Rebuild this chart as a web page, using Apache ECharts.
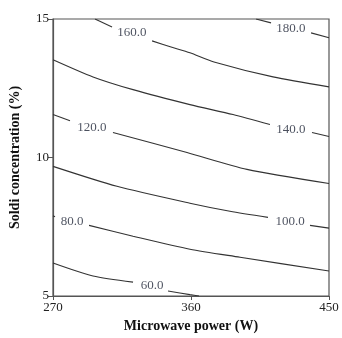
<!DOCTYPE html>
<html>
<head>
<meta charset="utf-8">
<script src="https://cdn.jsdelivr.net/npm/echarts@6/dist/echarts.min.js"></script>
<style>html,body{margin:0;padding:0;background:#fff}#c{width:342px;height:338px}</style>
</head>
<body>
<div id="c"></div>
<script>
// Axis ranges and ticks
var xTicks = [270, 360, 450];
var yTicks = [5, 10, 15];

// Contour lines: each is a list of segments (gaps where labels sit), points [power, concentration]
var contour180 = [
  [[402.4, 15.0], [412.2, 14.86]],
  [[438.3, 14.50], [450, 14.32]]
];
var contour160 = [
  [[297.4, 15.0], [308.5, 14.71]],
  [[334.6, 14.21], [347.0, 13.99], [359.3, 13.78], [375.0, 13.45], [413.5, 12.91], [450, 12.55]]
];
var contour140 = [
  [[270, 13.53], [296.1, 12.91], [322.2, 12.45], [359.3, 11.91], [387.4, 11.55], [411.5, 11.19]],
  [[438.9, 10.90], [450, 10.76]]
];
var contour120 = [
  [[270, 11.55], [281.1, 11.33]],
  [[309.1, 10.90], [357.4, 10.18], [396.5, 9.57], [450, 9.06]]
];
var contour100 = [
  [[270, 9.68], [311.7, 8.96], [359.3, 8.35], [385.4, 8.06], [410.2, 7.84]],
  [[437.6, 7.55], [450, 7.45]]
];
var contour80 = [
  [[270, 7.90], [271.3, 7.86]],
  [[293.5, 7.55], [322.2, 7.16], [359.3, 6.69], [392.0, 6.40], [450, 5.90]]
];
var contour60 = [
  [[270, 6.19], [296.1, 5.72], [322.2, 5.50]],
  [[345.0, 5.18], [359.3, 5.05], [365.2, 5.0]]
];

// Contour labels: [power, concentration, text]
var contourLabels = [
  [425.2, 14.64, '180.0'],
  [321.5, 14.50, '160.0'],
  [425.2, 11.01, '140.0'],
  [295.4, 11.08, '120.0'],
  [424.6, 7.70, '100.0'],
  [282.4, 7.70, '80.0'],
  [334.6, 5.36, '60.0']
];

var allContours = [contour180, contour160, contour140, contour120, contour100, contour80, contour60];

var series = [];
allContours.forEach(function (c) {
  c.forEach(function (seg) {
    series.push({
      type: 'line',
      data: seg,
      symbol: 'none',
      smooth: 0.25,
      lineStyle: { color: '#333', width: 1.1 },
      silent: true,
      z: 2
    });
  });
});
series.push({
  type: 'scatter',
  data: contourLabels,
  symbolSize: 0,
  silent: true,
  label: {
    show: true,
    position: 'inside',
    formatter: function (p) { return p.data[2]; },
    fontFamily: "'Liberation Serif', serif",
    fontSize: 13,
    color: '#1e2436'
  },
  z: 3
});

var serif = "'Liberation Serif', serif";
var chart = echarts.init(document.getElementById('c'), null, { renderer: 'canvas' });
chart.setOption({
  animation: false,
  backgroundColor: '#fff',
  grid: { left: 53, right: 13, top: 19, bottom: 41, show: true, borderColor: '#555', borderWidth: 1.2, backgroundColor: 'transparent' },
  xAxis: {
    type: 'value', min: xTicks[0], max: xTicks[xTicks.length - 1], interval: xTicks[1] - xTicks[0],
    name: 'Microwave power (W)', nameLocation: 'middle', nameGap: 23,
    nameTextStyle: { fontFamily: serif, fontSize: 14, fontWeight: 'bold', color: '#111' },
    axisLine: { show: true, lineStyle: { color: '#555', width: 1.2 } },
    axisTick: { show: true, length: 4, lineStyle: { color: '#555' } },
    axisLabel: { fontFamily: serif, fontSize: 13, color: '#222', margin: 5 },
    splitLine: { show: false }
  },
  yAxis: {
    type: 'value', min: yTicks[0], max: yTicks[yTicks.length - 1], interval: yTicks[1] - yTicks[0],
    name: 'Soldi concentration (%)', nameLocation: 'middle', nameGap: 31,
    nameTextStyle: { fontFamily: serif, fontSize: 14, fontWeight: 'bold', color: '#111' },
    axisLine: { show: true, lineStyle: { color: '#555', width: 1.2 } },
    axisTick: { show: true, length: 5, lineStyle: { color: '#555' } },
    axisLabel: { fontFamily: serif, fontSize: 13, color: '#222', margin: 4 },
    splitLine: { show: false }
  },
  series: series
});
</script>
</body>
</html>
